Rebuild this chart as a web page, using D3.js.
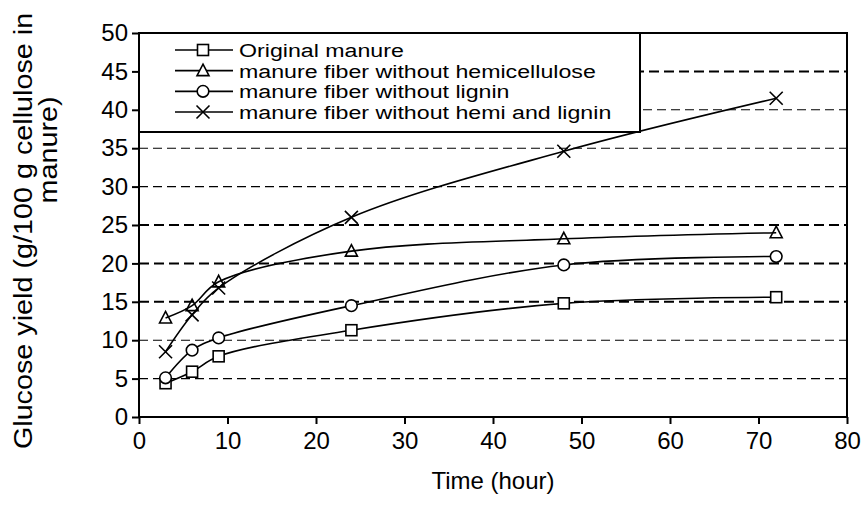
<!DOCTYPE html>
<meta charset="utf-8">
<style>

body {
  margin: 0;
  background: #fff;
}

text {
  font-family: "Liberation Sans", Arial, sans-serif;
  fill: #000;
}

.axis path {
  stroke: #000;
  stroke-width: 2;
}

.axis line {
  stroke: #000;
  stroke-width: 2;
}

.grid line {
  stroke: #000;
}

.series path {
  fill: none;
  stroke: #000;
  stroke-width: 1.6;
}

.marker {
  fill: #fff;
  stroke: #000;
  stroke-width: 1.6;
}

</style>
<script src="https://d3js.org/d3.v7.min.js"></script>
<body>

<script>

// hours of hydrolysis
var hours = [3, 6, 9, 24, 48, 72];

// glucose yield, g/100 g cellulose in manure
var originalManure = [4.4, 5.9, 7.9, 11.3, 14.8, 15.6];
var withoutHemi = [12.9, 14.5, 17.6, 21.6, 23.2, 24.0];
var withoutLignin = [5.1, 8.7, 10.3, 14.5, 19.8, 20.9];
var withoutBoth = [8.5, 13.3, 16.8, 26.0, 34.6, 41.5];

var seriesNames = [
  "Original manure",
  "manure fiber without hemicellulose",
  "manure fiber without lignin",
  "manure fiber without hemi and lignin"
];
var seriesMarkers = ["square", "triangle", "circle", "cross"];

var xTicks = [0, 10, 20, 30, 40, 50, 60, 70, 80];
var yTicks = [0, 5, 10, 15, 20, 25, 30, 35, 40, 45, 50];
var gridLevels = [5, 10, 15, 20, 25, 30, 35, 40, 45];
var heavyGrid = [15, 20, 25, 45];

var width = 865,
    height = 521;

var svg = d3.select("body").append("svg")
    .attr("width", width)
    .attr("height", height);

var x = d3.scaleLinear().domain([0, 80]).range([139, 847]);
var y = d3.scaleLinear().domain([0, 50]).range([417, 33]);

var series = [originalManure, withoutHemi, withoutLignin, withoutBoth].map(function(vals, i) {
  return {
    name: seriesNames[i],
    marker: seriesMarkers[i],
    points: hours.map(function(h, j) { return {x: h, y: vals[j]}; })
  };
});

// grid
svg.append("g")
    .attr("class", "grid")
  .selectAll("line")
  .data(gridLevels)
  .enter().append("line")
    .attr("x1", x(0))
    .attr("x2", x(80))
    .attr("y1", function(d) { return y(d); })
    .attr("y2", function(d) { return y(d); })
    .attr("stroke-width", function(d) { return heavyGrid.indexOf(d) >= 0 ? 2 : 1.1; })
    .attr("stroke-dasharray", function(d) { return heavyGrid.indexOf(d) >= 0 ? "10,5" : "9,5"; });

// frame
svg.append("rect")
    .attr("x", x(0))
    .attr("y", y(50))
    .attr("width", x(80) - x(0))
    .attr("height", y(0) - y(50))
    .attr("fill", "none")
    .attr("stroke", "#000")
    .attr("stroke-width", 2);

var xAxis = d3.axisBottom(x).tickValues(xTicks).tickSize(7).tickPadding(8);
var yAxis = d3.axisLeft(y).tickValues(yTicks).tickSize(7).tickPadding(4);

var gx = svg.append("g")
    .attr("class", "x axis")
    .attr("transform", "translate(0," + y(0) + ")")
    .call(xAxis);

var gy = svg.append("g")
    .attr("class", "y axis")
    .attr("transform", "translate(" + x(0) + ",0)")
    .call(yAxis);

svg.selectAll(".axis path").remove();
svg.selectAll(".axis text")
    .attr("font-size", 24)
    .attr("font-family", null);

// curves
var line = d3.line()
    .x(function(d) { return x(d.x); })
    .y(function(d) { return y(d.y); })
    .curve(d3.curveCatmullRom.alpha(0.5));

var gs = svg.append("g").attr("class", "series")
  .selectAll("g")
  .data(series)
  .enter().append("g");

gs.append("path")
    .attr("d", function(d) { return line(d.points); });

function drawMarker(sel, kind) {
  if (kind == "square") {
    sel.append("rect")
        .attr("class", "marker")
        .attr("x", -5.5).attr("y", -5.5)
        .attr("width", 11).attr("height", 11);
  } else if (kind == "triangle") {
    sel.append("path")
        .attr("class", "marker")
        .attr("d", "M0,-6.5L6,5L-6,5Z");
  } else if (kind == "circle") {
    sel.append("circle")
        .attr("class", "marker")
        .attr("r", 5.8);
  } else {
    sel.append("path")
        .attr("class", "marker")
        .attr("fill", "none")
        .attr("d", "M-6.5,-6.5L6.5,6.5M-6.5,6.5L6.5,-6.5");
  }
}

gs.each(function(s) {
  d3.select(this).selectAll(".pt")
    .data(s.points)
    .enter().append("g")
      .attr("class", "pt")
      .attr("transform", function(d) { return "translate(" + x(d.x) + "," + y(d.y) + ")"; })
      .each(function() { drawMarker(d3.select(this), s.marker); });
});

// legend
var legend = svg.append("g");

legend.append("rect")
    .attr("x", x(0))
    .attr("y", y(50))
    .attr("width", 501)
    .attr("height", 99)
    .attr("fill", "#fff")
    .attr("stroke", "#000")
    .attr("stroke-width", 2);

var rowY = d3.scalePoint().domain(seriesNames).range([50, 112]);

var rows = legend.selectAll(".row")
  .data(series)
  .enter().append("g")
    .attr("class", "row")
    .attr("transform", function(d) { return "translate(0," + rowY(d.name) + ")"; });

rows.append("line")
    .attr("x1", 175).attr("x2", 233)
    .attr("stroke", "#000").attr("stroke-width", 1.6);

rows.append("g")
    .attr("transform", "translate(203,0)")
    .each(function(d) { drawMarker(d3.select(this), d.marker); });

rows.append("text")
    .attr("transform", "translate(239,0) scale(1.22,1)")
    .attr("dy", "0.36em")
    .attr("font-size", 19)
    .text(function(d) { return d.name; });

// axis titles
svg.append("text")
    .attr("x", (x(0) + x(80)) / 2)
    .attr("y", 489)
    .attr("text-anchor", "middle")
    .attr("font-size", 24)
    .text("Time (hour)");

svg.append("text")
    .attr("transform", "translate(32,231) rotate(-90) scale(1.15,1)")
    .attr("text-anchor", "middle")
    .attr("font-size", 25)
    .text("Glucose yield (g/100 g cellulose in");

svg.append("text")
    .attr("transform", "translate(57,150) rotate(-90) scale(1.15,1)")
    .attr("text-anchor", "middle")
    .attr("font-size", 25)
    .text("manure)");

</script>

</body>
